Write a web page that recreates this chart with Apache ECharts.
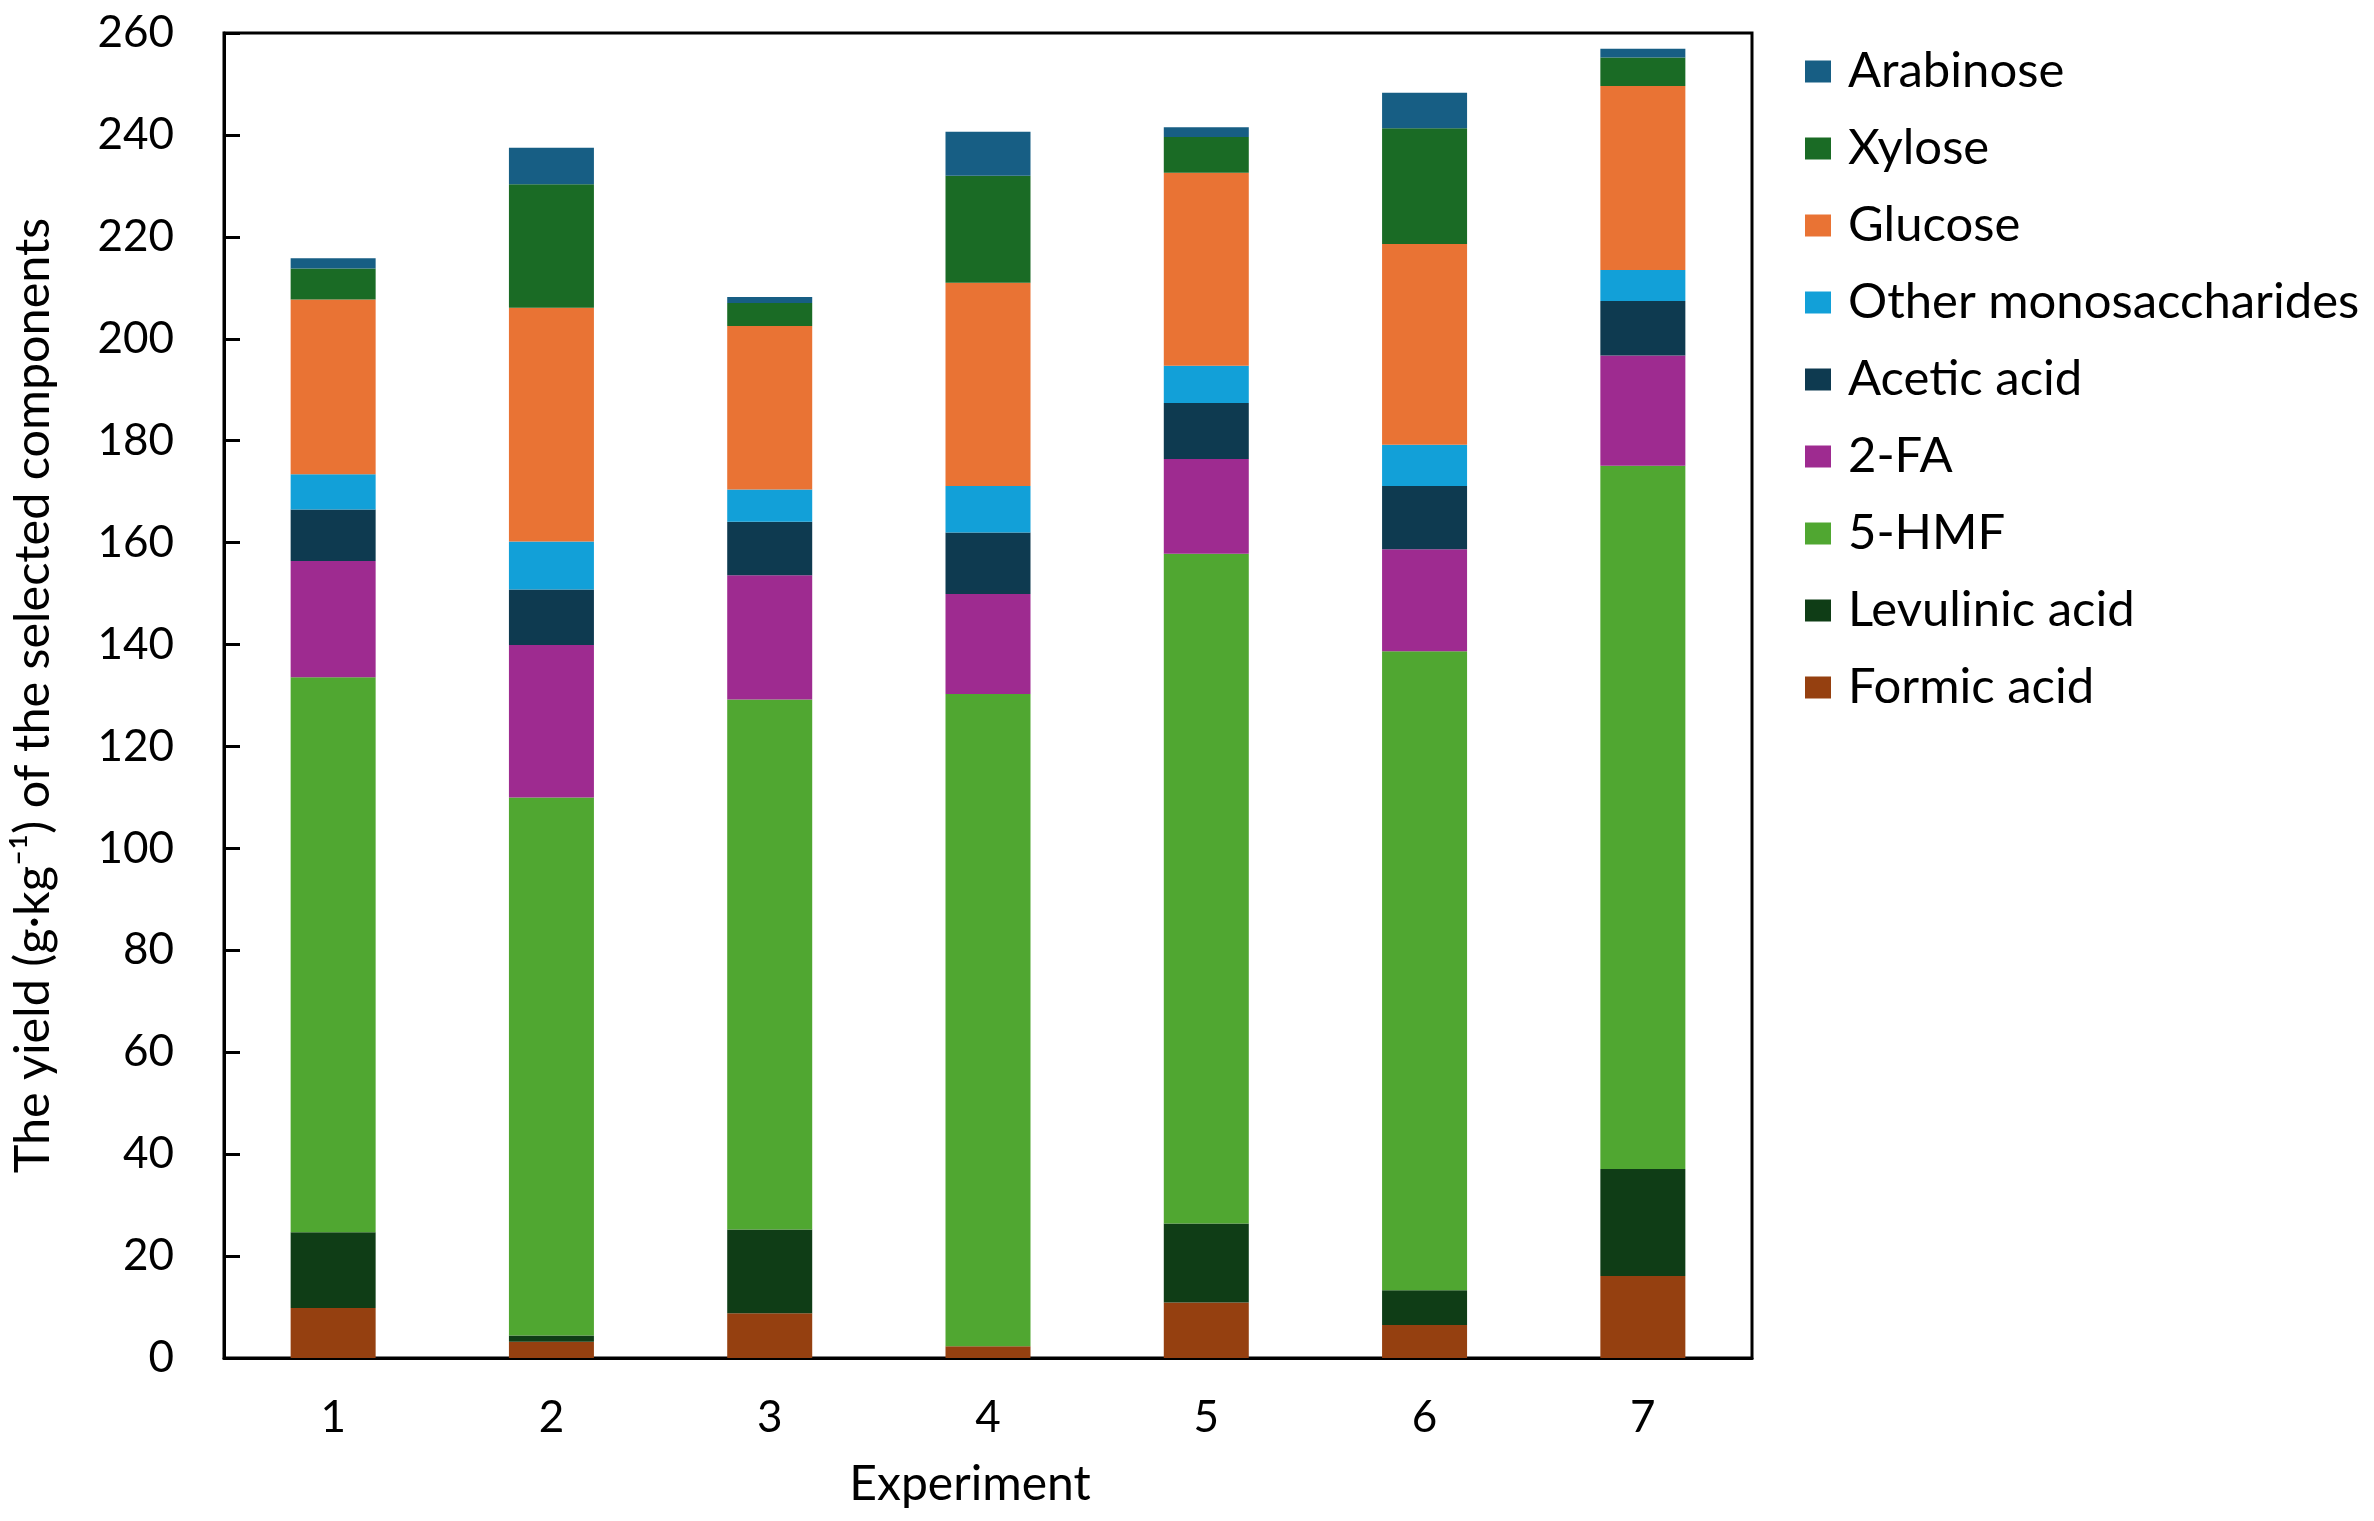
<!DOCTYPE html>
<html>
<head>
<meta charset="utf-8">
<script src="https://cdn.jsdelivr.net/npm/echarts@6/dist/echarts.min.js"></script>
<style>html,body{margin:0;padding:0;background:#fff;}#c{width:2374px;height:1521px;}</style>
</head>
<body>
<div id="c"></div>
<script>
const categories = ['1','2','3','4','5','6','7'];
const formicAcid     = [9.8, 3.2, 8.8, 2.3, 10.9, 6.5, 16.1];
const levulinicAcid  = [14.9, 1.2, 16.4, 0, 15.5, 6.8, 21.0];
const hmf5           = [108.9, 105.6, 104.0, 128.0, 131.4, 125.4, 138.0];
const fa2            = [22.8, 29.9, 24.4, 19.6, 18.6, 20.0, 21.6];
const aceticAcid     = [10.1, 10.9, 10.5, 12.1, 11.0, 12.4, 10.7];
const otherMono      = [6.9, 9.4, 6.3, 9.1, 7.3, 8.1, 6.1];
const glucose        = [34.3, 45.9, 32.1, 39.9, 37.9, 39.4, 36.1];
const xylose         = [6.1, 24.2, 4.5, 21.0, 7.0, 22.7, 5.6];
const arabinose      = [2.0, 7.2, 1.2, 8.6, 1.9, 7.0, 1.7];
const yTicks = [0,20,40,60,80,100,120,140,160,180,200,220,240,260];

const seriesDefs = [
  ['Formic acid', formicAcid, '#954010'],
  ['Levulinic acid', levulinicAcid, '#0f3d16'],
  ['5-HMF', hmf5, '#50a731'],
  ['2-FA', fa2, '#9e2b90'],
  ['Acetic acid', aceticAcid, '#0e3a50'],
  ['Other monosaccharides', otherMono, '#12a0d8'],
  ['Glucose', glucose, '#e97334'],
  ['Xylose', xylose, '#1a6b25'],
  ['Arabinose', arabinose, '#175e84']
];
const font = 'Lato, "Open Sans", sans-serif';
const chart = echarts.init(document.getElementById('c'));
chart.setOption({
  animation: false,
  backgroundColor: '#fff',
  textStyle: {fontFamily: font, color: '#000'},
  grid: {left: 224, top: 33, right: 622, bottom: 163, show: true, borderColor: '#000', borderWidth: 3, backgroundColor: 'transparent'},
  legend: {
    orient: 'vertical', left: 1800, top: 42,
    itemWidth: 26, itemHeight: 22, itemGap: 28, icon: 'rect',
    textStyle: {fontFamily: font, fontSize: 49, lineHeight: 49, color: '#000', padding: [0,0,0,12]},
    data: seriesDefs.map(d => d[0]).reverse()
  },
  xAxis: {
    type: 'category', data: categories,
    axisLine: {lineStyle: {color: '#000', width: 3}},
    axisTick: {show: false},
    axisLabel: {fontSize: 44, color: '#000', margin: 38, fontFamily: font},
    name: 'Experiment', nameLocation: 'middle', nameGap: 103,
    nameTextStyle: {fontSize: 48, color: '#000', fontFamily: font, padding: [0, 36, 0, 0]}
  },
  yAxis: {
    type: 'value', min: 0, max: 260, interval: 20,
    axisLine: {show: true, lineStyle: {color: '#000', width: 3}},
    axisTick: {show: true, inside: true, length: 16, lineStyle: {color: '#000', width: 3}},
    splitLine: {show: false},
    axisLabel: {fontSize: 44, color: '#000', margin: 50, fontFamily: font,
      formatter: v => yTicks.includes(v) ? String(v) : ''},
    name: 'The yield (g·kg⁻¹) of the selected components', nameLocation: 'middle', nameGap: 166,
    nameTextStyle: {fontSize: 48.5, color: '#000', fontFamily: font}
  },
  series: seriesDefs.map(d => ({
    name: d[0], type: 'bar', stack: 'total', data: d[1], barWidth: 85,
    itemStyle: {color: d[2]}
  }))
});
</script>
</body>
</html>
